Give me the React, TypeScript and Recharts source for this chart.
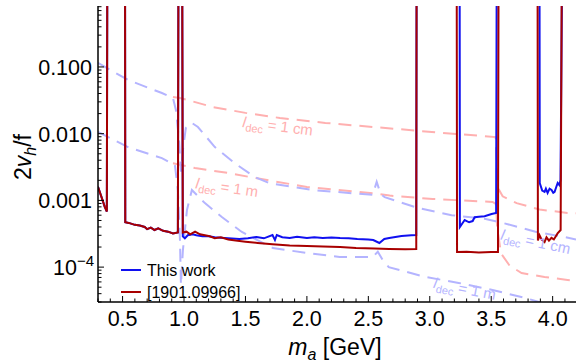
import React from "react";
import { LineChart, Line, XAxis, YAxis, ReferenceDot } from "recharts";

// value used for the parts of the limits that leave the top of the frame
const OFF = 5;

// m_a [GeV], 2 v_h / f
const thisWork: [number, number][] = [
  [0.3, 0.0016], [0.33, 0.0011], [0.355, 0.0008], [0.372, 0.00068], [0.376, OFF],
  [0.52, OFF], [0.522, 0.00047], [0.55, 0.00046], [0.6, 0.00043], [0.64, 0.00042],
  [0.68, 0.0004], [0.7, 0.00037], [0.73, 0.00039], [0.76, 0.00036], [0.79, 0.00038],
  [0.83, 0.00035], [0.87, 0.00034], [0.91, 0.00032], [0.95, 0.00033], [0.955, OFF],
  [0.985, OFF], [0.99, 0.00029], [1.007, 0.00027], [1.03, 0.0003], [1.07, 0.00031],
  [1.1, 0.0003], [1.15, 0.00029], [1.2, 0.00029], [1.25, 0.00028], [1.3, 0.000275],
  [1.36, 0.00027], [1.45, 0.000264], [1.52, 0.00027], [1.59, 0.000283], [1.65, 0.00027],
  [1.72, 0.000303], [1.74, 0.000255], [1.755, 0.000303], [1.8, 0.00028], [1.86, 0.000273],
  [1.92, 0.000285], [2.0, 0.000273], [2.06, 0.00028], [2.13, 0.000273], [2.2, 0.000278],
  [2.27, 0.000273], [2.34, 0.00027], [2.41, 0.000264], [2.5, 0.00026], [2.54, 0.000255],
  [2.59, 0.00023], [2.63, 0.000264], [2.67, 0.000273], [2.72, 0.000283], [2.77, 0.000292],
  [2.85, 0.0003], [2.89, 0.000303], [2.893, OFF], [3.243, OFF], [3.245, 0.0004],
  [3.284, 0.000508], [3.32, 0.00047], [3.349, 0.00049], [3.365, 0.00056], [3.4, 0.00057],
  [3.446, 0.00058], [3.503, 0.000625], [3.54, 0.00065], [3.545, OFF], [3.893, OFF],
  [3.895, 0.00182], [3.915, 0.0014], [3.934, 0.00134], [3.945, 0.0015], [3.959, 0.00129],
  [3.975, 0.0015], [3.991, 0.00143], [4.005, 0.0013], [4.016, 0.00134], [4.03, 0.0016],
  [4.041, 0.00182], [4.055, 0.0017], [4.064, 0.00202], [4.078, OFF],
];

const ref1901: [number, number][] = [
  [0.3, 0.0016], [0.33, 0.0011], [0.355, 0.0008], [0.372, 0.00068], [0.376, OFF],
  [0.52, OFF], [0.522, 0.00047], [0.55, 0.00046], [0.6, 0.00043], [0.64, 0.00042],
  [0.68, 0.0004], [0.7, 0.00037], [0.73, 0.00039], [0.76, 0.00036], [0.79, 0.00038],
  [0.83, 0.00035], [0.87, 0.00034], [0.91, 0.00032], [0.95, 0.00033], [0.955, OFF],
  [0.985, OFF], [0.99, 0.00033], [1.02, 0.00034], [1.05, 0.00031], [1.09, 0.00034],
  [1.13, 0.00031], [1.17, 0.0003], [1.21, 0.00029], [1.25, 0.00027], [1.3, 0.00028],
  [1.36, 0.00026], [1.42, 0.00025], [1.5, 0.00024], [1.6, 0.00023], [1.72, 0.00022],
  [1.86, 0.00021], [2.0, 0.000207], [2.13, 0.000203], [2.27, 0.0002], [2.4, 0.000194],
  [2.55, 0.00019], [2.67, 0.000187], [2.8, 0.000186], [2.89, 0.000187], [2.893, OFF],
  [3.219, OFF], [3.222, 0.000168], [3.3, 0.00017], [3.4, 0.000165], [3.5, 0.000168],
  [3.555, 0.000168], [3.56, OFF], [3.877, OFF], [3.88, 0.00025], [3.893, 0.0003],
  [3.91, 0.00026], [3.934, 0.000238], [3.95, 0.00028], [3.97, 0.00025], [3.99, 0.000275],
  [4.01, 0.00026], [4.04, 0.00032], [4.065, 0.00036], [4.075, OFF],
];

// l_dec contours (dashed)
const redCm: [number, number][] = [
  [0.91, 0.0355], [0.967, 0.0343], [1.235, 0.0251], [1.5, 0.0205], [1.78, 0.0172],
  [2.15, 0.0145], [2.54, 0.0126], [3.1, 0.0103], [3.536, 0.0089], [3.55, 0.0016],
  [3.593, 0.00115], [3.707, 0.00091], [3.893, 0.00073], [4.12, 0.00065], [4.19, 0.00064],
];
const redM: [number, number][] = [
  [0.91, 0.0036], [1.089, 0.00306], [1.357, 0.00258], [1.576, 0.00217], [2.0, 0.00159],
  [2.536, 0.00128], [2.674, 0.00118], [3.024, 0.00105], [3.511, 0.00095], [3.54, 0.00088],
  [3.548, 0.0004], [3.58, 0.00016], [3.65, 0.000105], [3.747, 0.0000816], [3.934, 0.0000711],
  [4.121, 0.0000641], [4.19, 0.000062],
];
const blueCm: [number, number][] = [
  [0.3, 0.115], [0.544, 0.0638], [0.82, 0.0407], [0.91, 0.0343], [0.934, 0.0227],
  [0.959, 0.008], [0.975, 0.0027], [0.991, 0.0057], [1.015, 0.0122], [1.064, 0.0145],
  [1.113, 0.0126], [1.251, 0.0063], [1.414, 0.0036], [1.576, 0.00224], [1.698, 0.0018],
  [2.048, 0.00143], [2.536, 0.00121], [2.568, 0.0019], [2.6, 0.00125], [2.633, 0.00112],
  [2.902, 0.00077], [3.178, 0.0006], [3.446, 0.00053], [3.593, 0.00046], [3.86, 0.00034],
  [4.105, 0.00028], [4.19, 0.00026],
];
const blueM: [number, number][] = [
  [0.3, 0.0106], [0.544, 0.0063], [0.82, 0.0043], [0.926, 0.0034], [0.95, 0.00143],
  [0.967, 0.000255], [0.975, 0.000054], [0.991, 0.00018], [1.024, 0.00072], [1.064, 0.00143],
  [1.17, 0.00091], [1.308, 0.000564], [1.471, 0.000336], [1.723, 0.000193], [2.0, 0.000163],
  [2.267, 0.000142], [2.536, 0.000142], [2.577, 0.00017], [2.617, 0.000128], [2.666, 0.0001],
  [2.967, 0.000071], [3.235, 0.000058], [3.511, 0.0000454], [3.78, 0.0000344], [3.89, 0.00003],
  [4.0, 0.000026],
];

// contour labels: [m, value, angle, colour, text]
const decLabels: [number, number, number, string, string][] = [
  [1.763, 0.0129, 7, "#ffb0b0", "1 cm"],
  [1.349, 0.00155, 8, "#ffb0b0", "1 m"],
  [3.861, 0.000238, 12, "#b4b4ff", "1 cm"],
  [3.284, 0.000047, 11, "#b4b4ff", "1 m"],
];

const xTicks = [
  0.3, 0.4, 0.5, 0.6, 0.7, 0.8, 0.9, 1.0, 1.1, 1.2, 1.3, 1.4, 1.5, 1.6, 1.7, 1.8, 1.9, 2.0,
  2.1, 2.2, 2.3, 2.4, 2.5, 2.6, 2.7, 2.8, 2.9, 3.0, 3.1, 3.2, 3.3, 3.4, 3.5, 3.6, 3.7, 3.8,
  3.9, 4.0, 4.1,
];
const yTicks = [
  0.00003, 0.00004, 0.00005, 0.00006, 0.00007, 0.00008, 0.00009,
  0.0001, 0.0002, 0.0003, 0.0004, 0.0005, 0.0006, 0.0007, 0.0008, 0.0009,
  0.001, 0.002, 0.003, 0.004, 0.005, 0.006, 0.007, 0.008, 0.009,
  0.01, 0.02, 0.03, 0.04, 0.05, 0.06, 0.07, 0.08, 0.09,
  0.1, 0.2, 0.3, 0.4, 0.5, 0.6, 0.7, 0.8,
];

const FONT = '"Liberation Sans", Arial, Helvetica, sans-serif';
const toPts = (a: [number, number][]) => a.map(([m, v]) => ({ m, v }));

const isMajorY = (v: number) => {
  const l = Math.log10(v);
  return Math.abs(l - Math.round(l)) < 1e-6;
};
const isMajorX = (v: number) => Math.abs(v * 2 - Math.round(v * 2)) < 1e-6;

function LeftTick({ x, y, payload }: any) {
  const v = payload.value;
  const major = isMajorY(v);
  return (
    <g>
      <line x1={x} x2={x + (major ? 6 : 3.5)} y1={y} y2={y} stroke="#000" strokeWidth={1} />
      {major &&
        (v < 0.0005 ? (
          <text x={x - 4} y={y + 8} textAnchor="end" fontSize={21.5} fontFamily={FONT} fill="#000">
            10<tspan dy={-9} fontSize={15}>−4</tspan>
          </text>
        ) : (
          <text x={x - 6} y={y + 8} textAnchor="end" fontSize={21.5} fontFamily={FONT} fill="#000">
            {v.toFixed(3)}
          </text>
        ))}
    </g>
  );
}

function RightTick({ x, y, payload }: any) {
  const major = isMajorY(payload.value);
  return <line x1={x} x2={x - (major ? 6 : 3.5)} y1={y} y2={y} stroke="#000" strokeWidth={1} />;
}

function BottomTick({ x, y, payload }: any) {
  const v = payload.value;
  const major = isMajorX(v);
  return (
    <g>
      <line x1={x} x2={x} y1={y} y2={y - (major ? 6 : 3.5)} stroke="#000" strokeWidth={1} />
      {major && (
        <text x={x} y={y + 24} textAnchor="middle" fontSize={21.5} fontFamily={FONT} fill="#000">
          {v.toFixed(1)}
        </text>
      )}
    </g>
  );
}

function TopTick({ x, y, payload }: any) {
  const major = isMajorX(payload.value);
  return <line x1={x} x2={x} y1={y} y2={y + (major ? 6 : 3.5)} stroke="#000" strokeWidth={1} />;
}

function decLabel(angle: number, color: string, text: string) {
  return (props: any) => {
    const vb = props.viewBox || {};
    const cx = vb.x + (vb.width || 0) / 2;
    const cy = vb.y + (vb.height || 0) / 2;
    return (
      <text
        x={cx}
        y={cy + 5}
        textAnchor="middle"
        fontSize={15}
        fontFamily={FONT}
        fill={color}
        transform={`rotate(${angle} ${cx} ${cy})`}
      >
        <tspan fontStyle="italic">l</tspan>
        <tspan dy={4} fontSize={11}>dec</tspan>
        <tspan dy={-4}>{` = ${text}`}</tspan>
      </text>
    );
  };
}

const dashed = { strokeDasharray: "13 8", strokeWidth: 2, dot: false, isAnimationActive: false };

export default function App() {
  return (
    <div style={{ position: "absolute", left: 0, top: 0, width: 576, height: 363, background: "#fff" }}>
      <LineChart width={576} height={363} margin={{ top: 6, right: 0, bottom: 0, left: 0 }}>
        <XAxis
          dataKey="m"
          type="number"
          domain={[0.3, 4.19]}
          allowDataOverflow
          ticks={xTicks}
          interval={0}
          height={61}
          tickSize={0}
          tickMargin={0}
          tick={<BottomTick />}
          axisLine={{ stroke: "#000", strokeWidth: 1.5 }}
        />
        <XAxis
          xAxisId="top"
          orientation="top"
          dataKey="m"
          type="number"
          domain={[0.3, 4.19]}
          allowDataOverflow
          ticks={xTicks}
          interval={0}
          height={0}
          tickSize={0}
          tickMargin={0}
          tick={<TopTick />}
          axisLine={{ stroke: "#000", strokeWidth: 1.5 }}
        />
        <YAxis
          scale="log"
          type="number"
          domain={[0.00003, 0.82]}
          allowDataOverflow
          ticks={yTicks}
          interval={0}
          width={98}
          tickSize={0}
          tickMargin={0}
          tick={<LeftTick />}
          axisLine={{ stroke: "#000", strokeWidth: 1.5 }}
        />
        <YAxis
          yAxisId="right"
          orientation="right"
          scale="log"
          type="number"
          domain={[0.00003, 0.82]}
          allowDataOverflow
          ticks={yTicks}
          interval={0}
          width={0}
          tickSize={0}
          tickMargin={0}
          tick={<RightTick />}
          axisLine={{ stroke: "#000", strokeWidth: 1.5 }}
        />

        <Line data={toPts(redCm)} dataKey="v" stroke="#ffb0b0" {...dashed} />
        <Line data={toPts(redM)} dataKey="v" stroke="#ffb0b0" {...dashed} />
        <Line data={toPts(blueCm)} dataKey="v" stroke="#b4b4ff" {...dashed} />
        <Line data={toPts(blueM)} dataKey="v" stroke="#b4b4ff" {...dashed} />

        <Line data={toPts(thisWork)} dataKey="v" stroke="#1010f0" strokeWidth={2} dot={false} isAnimationActive={false} />
        <Line data={toPts(ref1901)} dataKey="v" stroke="#a80000" strokeWidth={2} dot={false} isAnimationActive={false} />

        {decLabels.map(([m, v, a, c, t], i) => (
          <ReferenceDot key={i} x={m} y={v} r={0} stroke="none" fill="none" label={decLabel(a, c, t)} />
        ))}
      </LineChart>

      <svg width={576} height={363} style={{ position: "absolute", left: 0, top: 0, pointerEvents: "none" }}>
        <text
          transform="translate(31 157) rotate(-90)"
          textAnchor="middle"
          fontSize={23}
          fontFamily={FONT}
          fill="#000"
        >
          2<tspan fontStyle="italic">v</tspan>
          <tspan dy={5} fontSize={16} fontStyle="italic">h</tspan>
          <tspan dy={-5}>/f</tspan>
        </text>
        <text x={335} y={355} textAnchor="middle" fontSize={23} fontFamily={FONT} fill="#000">
          <tspan fontStyle="italic">m</tspan>
          <tspan dy={5} fontSize={16} fontStyle="italic">a</tspan>
          <tspan dy={-5}> [GeV]</tspan>
        </text>

        <line x1={121} x2={141} y1={270} y2={270} stroke="#1010f0" strokeWidth={2} />
        <text x={147} y={276} fontSize={16} fontFamily={FONT} fill="#000">This work</text>
        <line x1={121} x2={141} y1={292} y2={292} stroke="#a80000" strokeWidth={2} />
        <text x={147} y={298} fontSize={16} fontFamily={FONT} fill="#000">[1901.09966]</text>
      </svg>
    </div>
  );
}
